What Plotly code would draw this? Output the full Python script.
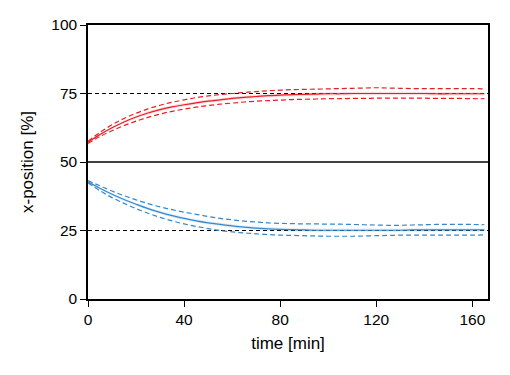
import plotly.graph_objects as go

time = [0, 5, 10, 15, 20, 25, 30, 35, 40, 45, 50, 55, 60, 65, 70, 75, 80, 85, 90, 95,
        100, 105, 110, 115, 120, 125, 130, 135, 140, 145, 150, 155, 160, 165]

red_mean = [57.2, 60.0, 62.5, 64.6, 66.4, 67.9, 69.1, 70.1, 70.9, 71.6, 72.2, 72.7, 73.2, 73.6,
            73.9, 74.2, 74.4, 74.6, 74.7, 74.8, 74.9, 74.9, 75.0, 75.0, 75.0, 75.0, 75.0, 75.0,
            75.0, 74.9, 74.9, 74.9, 74.9, 74.9]
red_upper = [57.6, 60.8, 63.6, 65.9, 67.8, 69.4, 70.7, 71.8, 72.7, 73.5, 74.1, 74.6, 75.0, 75.4,
             75.7, 76.0, 76.2, 76.4, 76.5, 76.6, 76.7, 76.8, 76.9, 77.0, 77.1, 77.0, 76.9, 76.8,
             76.8, 76.8, 76.8, 76.8, 76.8, 76.7]
red_lower = [56.8, 59.3, 61.4, 63.3, 64.9, 66.3, 67.5, 68.5, 69.3, 70.0, 70.6, 71.1, 71.5, 71.9,
             72.2, 72.4, 72.6, 72.8, 72.9, 73.0, 73.1, 73.1, 73.2, 73.2, 73.3, 73.3, 73.3, 73.3,
             73.3, 73.2, 73.2, 73.2, 73.1, 73.1]
red_sem = [0.2, 0.3, 0.4, 0.5, 0.5, 0.6, 0.6, 0.6, 0.6, 0.6, 0.6, 0.6, 0.6, 0.6, 0.6, 0.6, 0.6,
           0.6, 0.6, 0.6, 0.6, 0.6, 0.6, 0.6, 0.6, 0.6, 0.6, 0.6, 0.6, 0.6, 0.6, 0.6, 0.6, 0.6]

blue_mean = [42.8, 40.4, 38.2, 36.3, 34.6, 33.0, 31.6, 30.4, 29.4, 28.5, 27.8, 27.2, 26.7, 26.2,
             25.9, 25.6, 25.4, 25.3, 25.2, 25.1, 25.1, 25.1, 25.1, 25.1, 25.1, 25.1, 25.1, 25.2,
             25.2, 25.2, 25.2, 25.2, 25.2, 25.2]
blue_upper = [43.2, 41.3, 39.4, 37.7, 36.2, 34.8, 33.6, 32.6, 31.7, 30.9, 30.1, 29.4, 28.9, 28.4,
              28.1, 27.8, 27.6, 27.5, 27.4, 27.4, 27.3, 27.3, 27.2, 27.1, 27.0, 26.9, 26.9, 27.0,
              27.1, 27.2, 27.2, 27.2, 27.2, 27.1]
blue_lower = [42.4, 39.5, 37.0, 34.9, 33.0, 31.3, 29.8, 28.5, 27.4, 26.5, 25.7, 25.0, 24.5, 24.1,
              23.8, 23.5, 23.3, 23.2, 23.1, 23.0, 22.9, 22.9, 22.9, 23.0, 23.1, 23.2, 23.3, 23.3,
              23.3, 23.3, 23.3, 23.3, 23.3, 23.4]
blue_sem = red_sem

ref_lines = [75, 25]
mid_line = 50
x_ticks = [0, 40, 80, 120, 160]
y_ticks = [0, 25, 50, 75, 100]

RED = "rgb(232,30,38)"
RED_FILL = "rgba(232,30,38,0.15)"
BLUE = "rgb(52,136,204)"
BLUE_FILL = "rgba(52,136,204,0.15)"

fig = go.Figure()

for yv in ref_lines:
    fig.add_shape(type="line", xref="paper", yref="y", x0=0, x1=1, y0=yv, y1=yv,
                  line=dict(color="black", width=1.2, dash="4px,3px"), layer="below")
fig.add_shape(type="line", xref="paper", yref="y", x0=0, x1=1, y0=mid_line, y1=mid_line,
              line=dict(color="black", width=1.5), layer="below")

for mean, up, lo, sem, col, fill in [
    (red_mean, red_upper, red_lower, red_sem, RED, RED_FILL),
    (blue_mean, blue_upper, blue_lower, blue_sem, BLUE, BLUE_FILL),
]:
    hi_band = [m + s for m, s in zip(mean, sem)]
    lo_band = [m - s for m, s in zip(mean, sem)]
    fig.add_trace(go.Scatter(x=time, y=hi_band, mode="lines", line=dict(width=0),
                             showlegend=False, hoverinfo="skip", line_shape="spline"))
    fig.add_trace(go.Scatter(x=time, y=lo_band, mode="lines", line=dict(width=0),
                             fill="tonexty", fillcolor=fill, showlegend=False,
                             hoverinfo="skip", line_shape="spline"))
    fig.add_trace(go.Scatter(x=time, y=mean, mode="lines", line=dict(color=col, width=1.2),
                             showlegend=False, line_shape="spline"))
    for arr in (up, lo):
        fig.add_trace(go.Scatter(x=time, y=arr, mode="lines",
                                 line=dict(color=col, width=1.2, dash="5px,3px"),
                                 showlegend=False, line_shape="spline"))

axis_common = dict(showgrid=False, zeroline=False, showline=True, linecolor="black",
                   linewidth=1.5, mirror=True, ticks="outside", ticklen=6, tickwidth=1.2,
                   tickcolor="black", tickfont=dict(size=15.5, color="black"))

fig.update_xaxes(range=[0, 166.5], tickvals=x_ticks,
                 title=dict(text="time [min]", font=dict(size=17, color="black"), standoff=10),
                 **axis_common)
fig.update_yaxes(range=[0, 100], tickvals=y_ticks,
                 title=dict(text="x-position [%]", font=dict(size=17, color="black"), standoff=13),
                 **axis_common)

fig.update_layout(width=510, height=375, margin=dict(l=88, r=22, t=25, b=76),
                  plot_bgcolor="white", paper_bgcolor="white",
                  font=dict(family="Liberation Sans, Arial, sans-serif", color="black"))

fig.write_html("out.html")
